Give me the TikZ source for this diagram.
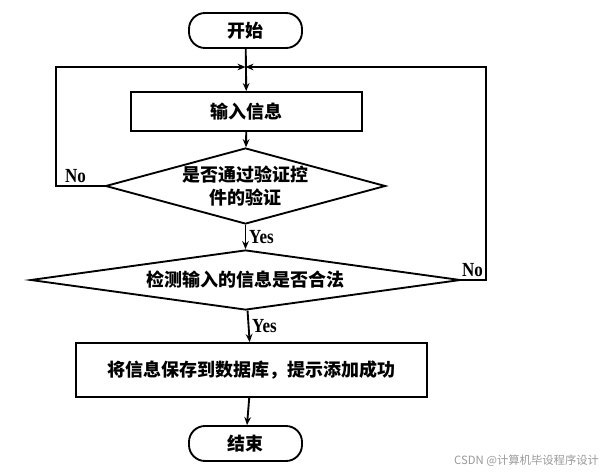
\documentclass[tikz,border=0pt]{standalone}
\usepackage{fontspec}
\newfontfamily\cjk{Noto Sans CJK SC}
\newfontfamily\latinbf[FakeStretch=0.85]{Liberation Serif Bold}
\usetikzlibrary{shapes.geometric,arrows.meta}
\definecolor{MarkClr}{rgb}{0.6,0.6,0.6}

\begin{document}
\begin{tikzpicture}[x=0.75pt,y=-0.75pt,line width=1.4pt,
  terminal/.style={draw,rounded corners=12pt,minimum width=84.75pt,minimum height=26.25pt,
    font=\cjk\bfseries\fontsize{13.5}{16}\selectfont},
  process/.style={draw,font=\cjk\bfseries\fontsize{13.5}{16}\selectfont},
  decision/.style={draw,diamond,inner sep=0pt,align=center,
    font=\cjk\bfseries\fontsize{13.5}{17}\selectfont},
  flow/.style={-{Stealth[length=6pt,width=5pt]}},
  answer/.style={font=\latinbf\fontsize{15}{17}\selectfont,inner sep=2pt}]
\useasboundingbox (0,0) rectangle (610,471);

\node[terminal] (start) at (245.5,30.5) {开始};
\node[process,minimum width=173.25pt,minimum height=29.25pt] (input) at (246.5,111.5) {输入信息};
\node[decision,minimum width=210pt,minimum height=57pt,shape aspect=3.7] (check1) at (245.5,186) {是否通过验证控\\件的验证};
\node[decision,minimum width=322.5pt,minimum height=45pt,shape aspect=7.2] (check2) at (245.5,280) {检测输入的信息是否合法};
\node[process,minimum width=263.25pt,minimum height=40.5pt] (save) at (251.5,370) {将信息保存到数据库，提示添加成功};
\node[terminal] (stop) at (245.5,443.5) {结束};

\coordinate (merge) at (245.5,67);
\coordinate (lcorner) at (56,67);
\coordinate (rcorner) at (486,67);

\draw[flow] (start) -- (input);
\draw[flow] (input) -- (check1);
\draw[flow] (check1) -- node[answer,right]{Yes} (check2);
\draw[flow] (check2) -- node[answer,right]{Yes} (save);
\draw[flow] (save) -- (stop);

\draw[flow] (check1.west) -- node[answer,above,pos=0.6]{No} (check1.west -| lcorner) -- (lcorner) -- (merge);
\draw[flow] (check2.east) -- node[answer,above,pos=0.45]{No} (check2.east -| rcorner) -- (rcorner) -- (merge);

\node[font=\cjk\fontsize{8.5}{10}\selectfont,text=MarkClr,anchor=east,inner sep=0pt] (mark) at (600,461) {CSDN @计算机毕设程序设计};
\end{tikzpicture}
\end{document}
